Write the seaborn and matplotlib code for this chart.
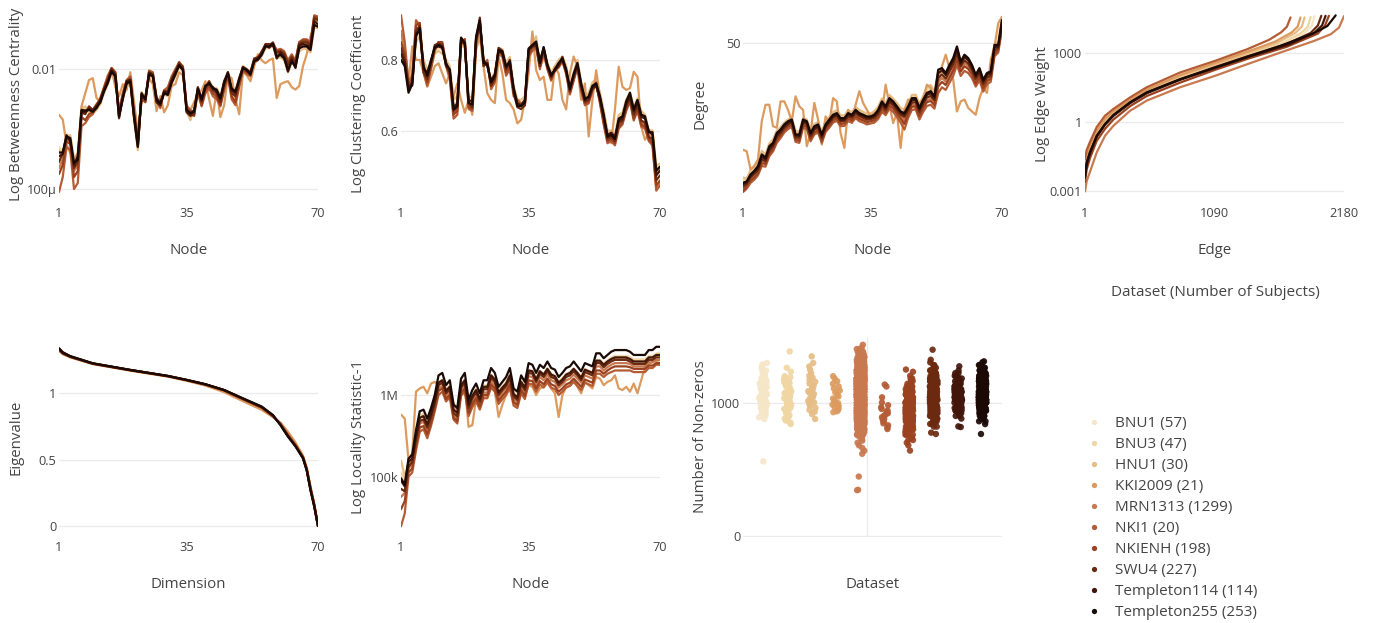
import numpy as np
import pandas as pd
import matplotlib
matplotlib.use("Agg")
import matplotlib.pyplot as plt
from matplotlib.lines import Line2D
from matplotlib.ticker import FixedLocator, NullLocator
import seaborn as sns

# ---------------------------------------------------------------- datasets
datasets = ["BNU1", "BNU3", "HNU1", "KKI2009", "MRN1313",
            "NKI1", "NKIENH", "SWU4", "Templeton114", "Templeton255"]
subjects = [57, 47, 30, 21, 1299, 20, 198, 227, 114, 253]
colors = ["#f5e6c8", "#efd6a3", "#e6bd85", "#dc9a5e", "#c8794f",
          "#b55c35", "#9a4220", "#6b2a10", "#42160a", "#1a0904"]
nodes = list(range(1, 71))

# ------------------------------------------- betweenness centrality (log10)
betw_bnu1 = [-3.40, -3.36, -3.08, -3.14, -3.55, -3.50, -2.70, -2.68, -2.70, -2.72,
             -2.64, -2.56, -2.36, -2.24, -2.05, -2.13, -2.76, -2.47, -2.24, -2.20,
             -2.78, -3.32, -2.40, -2.50, -2.10, -2.13, -2.52, -2.56, -2.40, -2.42,
             -2.24, -2.10, -1.94, -2.02, -2.70, -2.74, -2.70, -2.33, -2.52, -2.30,
             -2.24, -2.32, -2.35, -2.48, -2.24, -2.08, -2.32, -2.38, -2.18, -1.98,
             -2.02, -2.10, -1.88, -1.85, -1.77, -1.63, -1.63, -1.58, -1.80, -1.77,
             -1.83, -2.02, -1.88, -1.96, -1.66, -1.63, -1.63, -1.69, -1.27, -1.30]
betw_bnu3 = [-3.30, -3.38, -3.10, -3.12, -3.52, -3.48, -2.66, -2.66, -2.72, -2.70,
             -2.66, -2.55, -2.38, -2.22, -2.06, -2.14, -2.78, -2.46, -2.25, -2.22,
             -2.80, -3.30, -2.38, -2.52, -2.10, -2.14, -2.50, -2.56, -2.42, -2.44,
             -2.22, -2.10, -1.95, -2.02, -2.66, -2.75, -2.72, -2.34, -2.50, -2.28,
             -2.22, -2.33, -2.33, -2.46, -2.22, -2.08, -2.30, -2.36, -2.16, -1.97,
             -2.02, -2.08, -1.88, -1.84, -1.78, -1.64, -1.64, -1.58, -1.80, -1.78,
             -1.84, -2.02, -1.88, -1.94, -1.68, -1.64, -1.64, -1.70, -1.28, -1.30]
betw_hnu1 = [-3.35, -3.45, -3.15, -3.10, -3.50, -3.45, -2.65, -2.62, -2.70, -2.74,
             -2.68, -2.58, -2.40, -2.25, -2.08, -2.15, -2.80, -2.50, -2.28, -2.25,
             -2.82, -3.35, -2.38, -2.48, -2.12, -2.15, -2.48, -2.55, -2.42, -2.45,
             -2.25, -2.12, -1.96, -2.04, -2.70, -2.85, -2.68, -2.30, -2.48, -2.26,
             -2.20, -2.30, -2.32, -2.45, -2.20, -2.10, -2.30, -2.35, -2.15, -1.95,
             -2.00, -2.10, -1.88, -1.80, -1.78, -1.65, -1.65, -1.60, -1.82, -1.80,
             -1.85, -2.05, -1.90, -1.92, -1.70, -1.66, -1.66, -1.72, -1.30, -1.32]
betw_kki2009 = [-2.76, -2.84, -3.25, -3.40, -3.50, -3.40, -2.62, -2.40, -2.18, -2.15,
                -2.48, -2.55, -2.30, -2.10, -2.00, -2.30, -2.45, -2.25, -2.35, -2.05,
                -2.55, -3.05, -2.55, -2.45, -2.15, -2.25, -2.70, -2.45, -2.72, -2.60,
                -2.28, -2.25, -2.05, -2.10, -2.60, -2.68, -2.55, -2.40, -2.35, -2.20,
                -2.50, -2.78, -2.35, -2.80, -2.60, -2.10, -2.15, -2.50, -2.75, -2.05,
                -2.10, -2.20, -1.95, -1.75, -1.85, -1.90, -1.85, -1.82, -2.48, -2.25,
                -2.22, -2.20, -2.30, -2.34, -2.28, -1.95, -1.75, -1.45, -1.25, -1.30]
betw_mrn1313 = [-3.65, -3.50, -3.18, -3.20, -3.70, -3.60, -2.75, -2.70, -2.65, -2.68,
                -2.58, -2.52, -2.35, -2.20, -2.02, -2.08, -2.72, -2.45, -2.22, -2.20,
                -2.78, -3.22, -2.42, -2.50, -2.08, -2.10, -2.50, -2.58, -2.38, -2.38,
                -2.18, -2.05, -1.92, -1.98, -2.65, -2.72, -2.72, -2.32, -2.50, -2.30,
                -2.25, -2.32, -2.38, -2.52, -2.25, -2.08, -2.35, -2.42, -2.20, -2.00,
                -2.02, -2.08, -1.86, -1.83, -1.74, -1.62, -1.62, -1.58, -1.75, -1.72,
                -1.78, -1.95, -1.82, -1.92, -1.62, -1.58, -1.58, -1.64, -1.18, -1.20]
betw_nki1 = [-4.05, -3.80, -3.30, -3.35, -4.00, -3.90, -2.95, -2.90, -2.80, -2.75,
             -2.62, -2.48, -2.30, -2.12, -1.98, -2.05, -2.70, -2.40, -2.18, -2.12,
             -2.70, -3.15, -2.50, -2.55, -2.02, -2.05, -2.50, -2.65, -2.35, -2.30,
             -2.12, -2.00, -1.90, -1.95, -2.62, -2.68, -2.72, -2.40, -2.62, -2.40,
             -2.32, -2.45, -2.50, -2.62, -2.35, -2.12, -2.50, -2.60, -2.30, -2.02,
             -2.08, -2.12, -1.88, -1.85, -1.72, -1.62, -1.60, -1.58, -1.68, -1.66,
             -1.70, -1.85, -1.75, -1.85, -1.55, -1.50, -1.50, -1.55, -1.10, -1.12]
betw_nkienh = [-3.75, -3.60, -3.20, -3.25, -3.80, -3.70, -2.80, -2.85, -2.75, -2.72,
               -2.60, -2.50, -2.32, -2.15, -1.98, -2.05, -2.75, -2.42, -2.20, -2.15,
               -2.75, -3.20, -2.45, -2.55, -2.05, -2.10, -2.55, -2.62, -2.38, -2.35,
               -2.15, -2.02, -1.88, -1.96, -2.65, -2.70, -2.78, -2.35, -2.60, -2.35,
               -2.28, -2.40, -2.45, -2.60, -2.30, -2.10, -2.45, -2.55, -2.25, -2.00,
               -2.05, -2.10, -1.85, -1.82, -1.70, -1.60, -1.60, -1.55, -1.70, -1.68,
               -1.72, -1.90, -1.78, -1.88, -1.55, -1.52, -1.52, -1.58, -1.12, -1.15]
betw_swu4 = [-3.55, -3.40, -3.15, -3.18, -3.65, -3.55, -2.72, -2.75, -2.62, -2.68,
             -2.60, -2.50, -2.33, -2.18, -2.00, -2.08, -2.82, -2.45, -2.25, -2.18,
             -2.82, -3.30, -2.42, -2.50, -2.05, -2.08, -2.48, -2.55, -2.36, -2.38,
             -2.18, -2.05, -1.90, -1.98, -2.72, -2.78, -2.75, -2.30, -2.55, -2.32,
             -2.20, -2.35, -2.40, -2.55, -2.25, -2.05, -2.40, -2.45, -2.20, -1.96,
             -2.00, -2.05, -1.82, -1.80, -1.72, -1.58, -1.58, -1.60, -1.72, -1.70,
             -1.75, -1.92, -1.80, -1.90, -1.58, -1.55, -1.55, -1.60, -1.15, -1.18]
betw_templeton114 = [-3.45, -3.42, -3.10, -3.20, -3.60, -3.45, -2.70, -2.72, -2.66, -2.70,
                     -2.62, -2.56, -2.35, -2.20, -2.02, -2.10, -2.76, -2.50, -2.20, -2.18,
                     -2.75, -3.25, -2.44, -2.48, -2.06, -2.10, -2.55, -2.60, -2.38, -2.40,
                     -2.20, -2.05, -1.95, -2.00, -2.70, -2.76, -2.68, -2.35, -2.48, -2.27,
                     -2.25, -2.30, -2.38, -2.50, -2.20, -2.05, -2.35, -2.40, -2.15, -1.97,
                     -2.03, -2.06, -1.85, -1.82, -1.74, -1.60, -1.64, -1.58, -1.82, -1.72,
                     -1.80, -2.04, -1.84, -1.98, -1.60, -1.58, -1.60, -1.63, -1.20, -1.25]
betw_templeton255 = [-3.39, -3.39, -3.12, -3.15, -3.57, -3.51, -2.68, -2.69, -2.68, -2.71,
                     -2.65, -2.54, -2.37, -2.23, -2.04, -2.12, -2.79, -2.48, -2.23, -2.21,
                     -2.79, -3.29, -2.40, -2.51, -2.09, -2.12, -2.51, -2.57, -2.40, -2.43,
                     -2.23, -2.09, -1.93, -2.01, -2.68, -2.73, -2.71, -2.32, -2.51, -2.29,
                     -2.23, -2.32, -2.34, -2.48, -2.23, -2.07, -2.32, -2.37, -2.18, -1.98,
                     -2.01, -2.09, -1.87, -1.84, -1.76, -1.62, -1.62, -1.57, -1.79, -1.76,
                     -1.82, -2.01, -1.87, -1.96, -1.65, -1.62, -1.62, -1.68, -1.26, -1.29]

# ------------------------------------------------- clustering coefficient
clus_bnu1 = [0.81, 0.79, 0.71, 0.73, 0.875, 0.90, 0.785, 0.755, 0.80, 0.84,
             0.845, 0.84, 0.79, 0.77, 0.66, 0.67, 0.87, 0.85, 0.675, 0.67,
             0.875, 0.935, 0.795, 0.785, 0.73, 0.75, 0.83, 0.83, 0.78, 0.80,
             0.71, 0.665, 0.665, 0.675, 0.835, 0.85, 0.86, 0.79, 0.84, 0.785,
             0.75, 0.77, 0.79, 0.805, 0.77, 0.71, 0.755, 0.79, 0.725, 0.68,
             0.69, 0.72, 0.73, 0.69, 0.64, 0.585, 0.59, 0.58, 0.63, 0.635,
             0.675, 0.70, 0.655, 0.68, 0.64, 0.635, 0.595, 0.595, 0.51, 0.52]
clus_bnu3 = [0.83, 0.80, 0.72, 0.74, 0.87, 0.89, 0.79, 0.76, 0.79, 0.83,
             0.84, 0.835, 0.79, 0.775, 0.665, 0.675, 0.86, 0.845, 0.68, 0.675,
             0.87, 0.93, 0.80, 0.79, 0.735, 0.755, 0.835, 0.83, 0.785, 0.80,
             0.715, 0.67, 0.67, 0.68, 0.83, 0.85, 0.865, 0.795, 0.84, 0.79,
             0.755, 0.775, 0.795, 0.81, 0.775, 0.715, 0.76, 0.795, 0.73, 0.685,
             0.695, 0.725, 0.735, 0.695, 0.645, 0.59, 0.595, 0.585, 0.635, 0.64,
             0.68, 0.70, 0.66, 0.685, 0.645, 0.64, 0.60, 0.60, 0.515, 0.52]
clus_hnu1 = [0.87, 0.83, 0.74, 0.76, 0.86, 0.88, 0.80, 0.77, 0.78, 0.82,
             0.83, 0.82, 0.80, 0.78, 0.68, 0.69, 0.85, 0.84, 0.69, 0.685,
             0.86, 0.91, 0.80, 0.78, 0.74, 0.76, 0.84, 0.835, 0.79, 0.81,
             0.72, 0.68, 0.68, 0.69, 0.82, 0.86, 0.88, 0.78, 0.80, 0.79,
             0.76, 0.78, 0.80, 0.81, 0.78, 0.72, 0.76, 0.80, 0.73, 0.69,
             0.70, 0.73, 0.74, 0.70, 0.65, 0.60, 0.60, 0.59, 0.64, 0.645,
             0.68, 0.70, 0.66, 0.68, 0.65, 0.64, 0.60, 0.60, 0.52, 0.525]
clus_kki2009 = [0.90, 0.82, 0.73, 0.845, 0.80, 0.80, 0.76, 0.717, 0.747, 0.78,
                0.789, 0.757, 0.727, 0.757, 0.689, 0.727, 0.68, 0.645, 0.68, 0.64,
                0.833, 0.88, 0.778, 0.698, 0.68, 0.671, 0.811, 0.757, 0.68, 0.671,
                0.654, 0.618, 0.627, 0.68, 0.757, 0.898, 0.767, 0.737, 0.747, 0.68,
                0.68, 0.778, 0.757, 0.68, 0.654, 0.757, 0.811, 0.778, 0.68, 0.727,
                0.586, 0.68, 0.767, 0.689, 0.645, 0.593, 0.57, 0.654, 0.778, 0.717,
                0.708, 0.713, 0.762, 0.747, 0.61, 0.578, 0.593, 0.586, 0.503, 0.518]
clus_mrn1313 = [0.90, 0.84, 0.72, 0.74, 0.91, 0.90, 0.77, 0.74, 0.78, 0.84,
                0.855, 0.855, 0.785, 0.755, 0.645, 0.655, 0.865, 0.86, 0.665, 0.66,
                0.865, 0.935, 0.785, 0.79, 0.725, 0.745, 0.835, 0.825, 0.765, 0.785,
                0.705, 0.675, 0.67, 0.675, 0.825, 0.845, 0.85, 0.785, 0.835, 0.78,
                0.745, 0.77, 0.785, 0.80, 0.76, 0.705, 0.745, 0.78, 0.715, 0.675,
                0.68, 0.715, 0.725, 0.68, 0.625, 0.58, 0.585, 0.575, 0.615, 0.625,
                0.66, 0.685, 0.635, 0.66, 0.62, 0.615, 0.585, 0.575, 0.475, 0.485]
clus_nki1 = [0.96, 0.86, 0.73, 0.75, 0.94, 0.92, 0.76, 0.72, 0.77, 0.83,
             0.86, 0.85, 0.78, 0.74, 0.63, 0.64, 0.85, 0.87, 0.655, 0.65,
             0.85, 0.92, 0.78, 0.80, 0.71, 0.73, 0.82, 0.81, 0.75, 0.77,
             0.69, 0.68, 0.67, 0.665, 0.81, 0.83, 0.84, 0.77, 0.82, 0.77,
             0.735, 0.765, 0.775, 0.795, 0.755, 0.695, 0.735, 0.775, 0.705, 0.665,
             0.67, 0.705, 0.73, 0.67, 0.615, 0.57, 0.575, 0.565, 0.605, 0.615,
             0.65, 0.675, 0.625, 0.65, 0.61, 0.605, 0.575, 0.565, 0.47, 0.48]
clus_nkienh = [0.86, 0.82, 0.72, 0.74, 0.92, 0.93, 0.77, 0.73, 0.78, 0.84,
               0.86, 0.86, 0.79, 0.75, 0.64, 0.65, 0.86, 0.87, 0.66, 0.655,
               0.86, 0.93, 0.79, 0.79, 0.72, 0.74, 0.83, 0.82, 0.76, 0.78,
               0.70, 0.67, 0.665, 0.67, 0.82, 0.84, 0.845, 0.78, 0.83, 0.775,
               0.74, 0.77, 0.78, 0.80, 0.76, 0.70, 0.74, 0.78, 0.71, 0.67,
               0.675, 0.71, 0.725, 0.675, 0.62, 0.575, 0.58, 0.57, 0.61, 0.62,
               0.655, 0.68, 0.63, 0.655, 0.615, 0.61, 0.58, 0.57, 0.48, 0.49]
clus_swu4 = [0.84, 0.80, 0.72, 0.72, 0.90, 0.92, 0.76, 0.74, 0.79, 0.85,
             0.855, 0.85, 0.78, 0.76, 0.65, 0.66, 0.87, 0.86, 0.67, 0.66,
             0.87, 0.95, 0.78, 0.79, 0.72, 0.74, 0.84, 0.83, 0.77, 0.80,
             0.70, 0.66, 0.655, 0.665, 0.83, 0.845, 0.85, 0.78, 0.84, 0.78,
             0.745, 0.77, 0.78, 0.81, 0.765, 0.705, 0.75, 0.78, 0.72, 0.675,
             0.68, 0.71, 0.72, 0.68, 0.63, 0.58, 0.585, 0.575, 0.62, 0.625,
             0.665, 0.685, 0.64, 0.665, 0.625, 0.62, 0.585, 0.58, 0.49, 0.50]
clus_templeton114 = [0.82, 0.79, 0.71, 0.73, 0.89, 0.90, 0.77, 0.76, 0.80, 0.84,
                     0.845, 0.84, 0.79, 0.765, 0.66, 0.67, 0.87, 0.85, 0.68, 0.675,
                     0.87, 0.93, 0.80, 0.78, 0.735, 0.755, 0.83, 0.82, 0.775, 0.79,
                     0.715, 0.67, 0.665, 0.68, 0.835, 0.845, 0.855, 0.80, 0.835, 0.78,
                     0.755, 0.765, 0.785, 0.80, 0.765, 0.715, 0.75, 0.785, 0.72, 0.685,
                     0.685, 0.715, 0.72, 0.685, 0.635, 0.59, 0.595, 0.585, 0.625, 0.63,
                     0.67, 0.69, 0.65, 0.675, 0.635, 0.63, 0.60, 0.59, 0.50, 0.51]
clus_templeton255 = [0.80, 0.78, 0.70, 0.725, 0.88, 0.91, 0.78, 0.75, 0.795, 0.843,
                     0.85, 0.843, 0.785, 0.77, 0.654, 0.663, 0.876, 0.856, 0.672, 0.667,
                     0.88, 0.94, 0.79, 0.785, 0.73, 0.75, 0.833, 0.828, 0.78, 0.795,
                     0.71, 0.663, 0.663, 0.672, 0.838, 0.85, 0.862, 0.79, 0.843, 0.785,
                     0.75, 0.77, 0.79, 0.805, 0.77, 0.71, 0.756, 0.79, 0.727, 0.68,
                     0.69, 0.72, 0.727, 0.69, 0.64, 0.585, 0.59, 0.58, 0.63, 0.636,
                     0.676, 0.70, 0.654, 0.68, 0.64, 0.636, 0.596, 0.596, 0.51, 0.518]

# ---------------------------------------------------------------- degree
deg_bnu1 = [13.5, 13.7, 14.6, 15.1, 15.8, 17.6, 17.0, 18.9, 19.6, 21.4,
            22.1, 23.2, 23.9, 24.3, 21.2, 21.2, 24.3, 23.9, 21.5, 22.8,
            23.2, 21.2, 23.3, 24.3, 25.5, 25.9, 24.7, 24.6, 25.9, 25.5,
            26.7, 25.9, 25.5, 25.1, 25.1, 25.5, 26.7, 28.9, 27.6, 29.8,
            28.9, 27.6, 26.3, 25.9, 27.6, 29.8, 29.9, 27.2, 29.4, 31.6,
            32.0, 30.4, 38.2, 39.0, 37.3, 40.3, 43.0, 47.8, 41.6, 44.2,
            42.8, 40.1, 36.6, 39.0, 35.0, 37.3, 37.9, 48.8, 49.5, 63.0]
deg_bnu3 = [13.6, 13.9, 14.7, 15.2, 15.9, 17.7, 17.1, 19.0, 19.7, 21.5,
            22.2, 23.3, 24.0, 24.4, 21.4, 21.3, 24.4, 24.0, 21.6, 23.0,
            23.4, 21.3, 23.5, 24.5, 25.7, 26.1, 24.9, 24.8, 26.1, 25.7,
            26.9, 26.1, 25.7, 25.3, 25.3, 25.8, 27.0, 29.1, 27.8, 30.1,
            29.1, 27.9, 26.6, 26.1, 27.9, 30.1, 30.2, 27.6, 29.8, 32.2,
            32.6, 30.8, 38.0, 39.0, 37.2, 40.2, 42.8, 47.5, 41.6, 44.3,
            42.9, 40.2, 36.8, 39.2, 35.3, 37.6, 38.2, 49.0, 49.8, 62.8]
deg_hnu1 = [14.0, 13.8, 15.0, 15.5, 16.2, 18.0, 17.4, 19.3, 20.0, 21.8,
            22.5, 23.5, 24.2, 24.5, 21.8, 21.5, 24.5, 24.2, 21.8, 23.2,
            23.6, 21.6, 23.8, 24.8, 26.0, 26.4, 25.2, 25.1, 26.4, 26.0,
            27.2, 26.5, 26.0, 25.6, 25.6, 26.2, 27.3, 29.5, 28.2, 30.5,
            29.5, 28.3, 27.0, 26.5, 28.3, 30.5, 30.6, 28.0, 30.2, 33.0,
            33.5, 31.5, 37.5, 38.8, 37.0, 40.0, 42.5, 47.0, 41.5, 44.0,
            42.6, 40.0, 36.5, 39.0, 35.0, 37.4, 38.0, 49.5, 50.5, 63.5]
deg_kki2009 = [18.2, 17.9, 15.1, 15.6, 16.6, 23.8, 27.8, 27.8, 22.7, 22.4,
               28.7, 28.7, 26.5, 23.8, 30.1, 27.4, 26.5, 18.8, 21.3, 28.3,
               24.2, 19.1, 24.9, 23.4, 29.6, 28.7, 21.3, 18.5, 26.5, 23.4,
               27.8, 31.6, 28.3, 26.5, 24.9, 25.7, 25.7, 25.7, 33.6, 27.8,
               23.4, 25.7, 18.5, 26.5, 29.2, 28.7, 26.5, 28.3, 29.2, 33.6,
               32.6, 27.8, 33.6, 39.9, 44.6, 39.3, 35.2, 26.1, 28.7, 29.2,
               27.0, 26.1, 25.3, 29.6, 32.6, 31.1, 42.5, 48.2, 60.0, 63.8]
deg_mrn1313 = [12.5, 12.8, 13.8, 14.2, 14.8, 16.3, 16.0, 17.8, 18.5, 20.2,
               21.0, 22.1, 22.8, 23.3, 20.2, 20.1, 23.1, 22.8, 20.3, 21.7,
               22.1, 20.0, 22.2, 23.2, 24.3, 24.7, 23.5, 23.6, 24.6, 24.3,
               25.3, 24.6, 24.3, 23.9, 24.0, 24.3, 25.2, 27.2, 26.1, 28.0,
               27.2, 26.0, 24.9, 24.0, 25.9, 27.8, 27.9, 25.5, 27.4, 29.0,
               29.5, 28.3, 34.5, 35.8, 34.6, 37.0, 39.6, 43.8, 39.0, 41.2,
               40.0, 37.8, 34.8, 36.8, 33.2, 35.4, 36.0, 45.8, 47.0, 58.8]
deg_nki1 = [12.2, 12.6, 13.3, 13.7, 14.3, 15.6, 15.5, 17.1, 17.9, 19.4,
            20.3, 21.4, 22.1, 22.6, 19.6, 19.4, 22.4, 22.1, 19.7, 21.0,
            21.4, 19.4, 21.5, 22.4, 23.5, 23.9, 22.7, 22.8, 23.8, 23.5,
            24.5, 23.8, 23.5, 23.1, 23.3, 23.5, 24.3, 26.0, 25.2, 26.8,
            26.0, 24.8, 23.5, 22.0, 24.6, 26.5, 26.6, 24.2, 26.0, 27.5,
            27.8, 26.8, 31.0, 32.8, 32.0, 34.2, 36.5, 40.5, 36.5, 38.3,
            37.5, 35.8, 33.0, 35.0, 31.5, 33.8, 34.5, 44.0, 45.5, 57.0]
deg_nkienh = [12.3, 12.9, 13.6, 14.0, 14.6, 16.0, 15.9, 17.5, 18.3, 19.9,
              20.8, 21.9, 22.6, 23.0, 20.0, 19.8, 22.9, 22.6, 20.1, 21.4,
              21.8, 19.8, 21.9, 22.9, 24.0, 24.4, 23.2, 23.3, 24.3, 24.0,
              25.0, 24.3, 24.0, 23.6, 23.8, 24.0, 24.9, 26.8, 25.8, 27.6,
              26.8, 25.6, 24.4, 23.2, 25.5, 27.3, 27.4, 25.0, 26.9, 28.5,
              28.8, 27.7, 33.0, 34.5, 33.5, 35.8, 38.4, 42.5, 38.0, 40.0,
              39.0, 37.0, 34.0, 36.2, 32.5, 34.8, 35.5, 45.0, 46.5, 58.0]
deg_swu4 = [12.8, 13.2, 14.0, 14.5, 15.0, 16.6, 16.3, 18.0, 18.8, 20.5,
            21.3, 22.4, 23.1, 23.6, 20.4, 20.4, 23.4, 23.2, 20.6, 22.0,
            22.4, 20.3, 22.5, 23.5, 24.6, 25.0, 23.8, 23.9, 24.9, 24.6,
            25.7, 25.0, 24.6, 24.2, 24.3, 24.6, 25.6, 27.6, 26.5, 28.5,
            27.7, 26.4, 25.3, 24.8, 26.4, 28.4, 28.5, 26.0, 28.0, 29.8,
            30.2, 29.0, 35.8, 37.0, 35.6, 38.2, 40.8, 45.0, 40.0, 42.3,
            41.0, 38.6, 35.5, 37.5, 33.8, 36.0, 36.5, 46.5, 47.5, 59.5]
deg_templeton114 = [13.1, 13.4, 14.2, 14.7, 15.3, 17.0, 16.6, 18.4, 19.1, 20.9,
                    21.7, 22.7, 23.4, 23.9, 20.8, 20.7, 23.8, 23.5, 21.0, 22.3,
                    22.7, 20.7, 22.8, 23.8, 24.9, 25.3, 24.1, 24.2, 25.3, 25.0,
                    26.1, 25.3, 25.0, 24.6, 24.6, 25.0, 26.1, 28.2, 27.0, 29.1,
                    28.3, 27.0, 25.8, 25.3, 27.0, 29.1, 29.1, 26.6, 28.7, 30.5,
                    31.0, 29.6, 37.5, 38.4, 36.8, 39.6, 42.2, 46.8, 41.0, 43.6,
                    42.3, 39.7, 36.3, 38.5, 34.6, 36.8, 37.4, 47.8, 48.1, 60.8]
deg_templeton255 = [13.3, 13.5, 14.4, 14.9, 15.6, 17.4, 16.9, 18.8, 19.4, 21.3,
                    22.0, 23.1, 23.8, 24.2, 21.0, 21.0, 24.2, 23.8, 21.3, 22.7,
                    23.1, 21.0, 23.1, 24.2, 25.3, 25.7, 24.5, 24.5, 25.7, 25.3,
                    26.5, 25.7, 25.3, 24.9, 24.9, 25.3, 26.5, 28.7, 27.4, 29.6,
                    28.7, 27.4, 26.1, 25.7, 27.4, 29.6, 29.6, 27.0, 29.2, 31.1,
                    31.6, 30.1, 38.7, 39.3, 37.5, 40.5, 43.2, 48.2, 41.8, 44.6,
                    43.2, 40.5, 36.9, 39.3, 35.2, 37.5, 38.1, 48.9, 48.9, 61.9]

# ------------------------------------------- locality statistic-1 (log10)
loc_bnu1 = [5.00, 4.92, 5.16, 5.21, 5.50, 5.73, 5.76, 5.66, 5.79, 5.95,
            6.15, 6.19, 6.07, 6.12, 5.85, 5.81, 6.14, 6.19, 5.88, 6.01,
            6.08, 5.98, 6.12, 6.12, 6.25, 6.20, 6.06, 6.11, 6.16, 6.25,
            6.02, 5.98, 6.18, 6.11, 6.31, 6.30, 6.21, 6.30, 6.26, 6.33,
            6.26, 6.24, 6.17, 6.21, 6.26, 6.28, 6.33, 6.28, 6.23, 6.32,
            6.30, 6.28, 6.43, 6.43, 6.39, 6.43, 6.46, 6.48, 6.48, 6.48,
            6.48, 6.47, 6.44, 6.44, 6.44, 6.44, 6.48, 6.48, 6.51, 6.52]
loc_bnu3 = [5.05, 4.95, 5.18, 5.23, 5.52, 5.74, 5.77, 5.67, 5.79, 5.94,
            6.14, 6.18, 6.06, 6.11, 5.86, 5.81, 6.13, 6.18, 5.89, 6.00,
            6.07, 5.97, 6.11, 6.11, 6.24, 6.19, 6.05, 6.10, 6.15, 6.24,
            6.03, 5.99, 6.17, 6.10, 6.30, 6.29, 6.20, 6.29, 6.25, 6.32,
            6.25, 6.23, 6.16, 6.20, 6.25, 6.27, 6.32, 6.27, 6.22, 6.31,
            6.29, 6.27, 6.42, 6.42, 6.38, 6.42, 6.45, 6.47, 6.47, 6.47,
            6.47, 6.46, 6.43, 6.43, 6.43, 6.43, 6.47, 6.47, 6.50, 6.51]
loc_hnu1 = [5.20, 5.00, 5.15, 5.20, 5.50, 5.72, 5.75, 5.65, 5.78, 5.92,
            6.12, 6.16, 6.04, 6.10, 5.85, 5.80, 6.12, 6.16, 5.87, 5.98,
            6.06, 5.96, 6.10, 6.10, 6.22, 6.18, 6.04, 6.09, 6.13, 6.22,
            6.02, 5.98, 6.16, 6.09, 6.28, 6.27, 6.19, 6.27, 6.24, 6.30,
            6.24, 6.22, 6.15, 6.19, 6.24, 6.26, 6.30, 6.26, 6.21, 6.29,
            6.28, 6.26, 6.40, 6.40, 6.36, 6.40, 6.43, 6.45, 6.45, 6.45,
            6.45, 6.44, 6.41, 6.41, 6.41, 6.41, 6.45, 6.45, 6.48, 6.49]
loc_kki2009 = [5.76, 5.71, 5.20, 5.29, 6.04, 6.08, 6.10, 6.02, 6.14, 6.16,
               6.12, 6.15, 6.06, 6.10, 5.90, 5.82, 6.05, 6.12, 5.61, 5.63,
               5.95, 5.90, 6.00, 5.98, 6.10, 6.05, 5.73, 5.88, 6.00, 6.08,
               5.90, 5.85, 6.05, 5.98, 6.12, 6.10, 6.00, 6.08, 6.10, 6.15,
               6.08, 6.02, 5.73, 6.00, 6.10, 6.12, 6.18, 6.10, 6.02, 6.16,
               6.12, 6.08, 6.22, 6.20, 6.12, 6.16, 6.18, 6.24, 6.08, 6.06,
               6.10, 6.04, 6.14, 6.02, 6.18, 6.35, 6.37, 6.41, 6.41, 6.43]
loc_mrn1313 = [4.75, 4.80, 5.10, 5.15, 5.42, 5.65, 5.67, 5.57, 5.70, 5.87,
               6.08, 6.11, 5.98, 6.04, 5.76, 5.71, 6.05, 6.11, 5.81, 5.92,
               5.99, 5.89, 6.03, 6.03, 6.17, 6.12, 5.97, 6.03, 6.08, 6.17,
               5.95, 5.91, 6.10, 6.03, 6.23, 6.22, 6.12, 6.22, 6.18, 6.25,
               6.18, 6.16, 6.09, 6.13, 6.18, 6.20, 6.25, 6.20, 6.15, 6.24,
               6.22, 6.20, 6.35, 6.35, 6.30, 6.34, 6.37, 6.39, 6.39, 6.39,
               6.39, 6.38, 6.35, 6.35, 6.35, 6.35, 6.40, 6.40, 6.43, 6.43]
loc_nki1 = [4.39, 4.55, 5.00, 5.05, 5.32, 5.55, 5.58, 5.47, 5.62, 5.80,
            6.00, 6.04, 5.92, 5.97, 5.70, 5.65, 5.99, 6.04, 5.74, 5.85,
            5.92, 5.82, 5.96, 5.96, 6.09, 6.04, 5.89, 5.95, 6.00, 6.09,
            5.87, 5.84, 6.02, 5.95, 6.14, 6.13, 6.04, 6.13, 6.09, 6.16,
            6.09, 6.07, 6.00, 6.04, 6.09, 6.11, 6.16, 6.11, 6.06, 6.15,
            6.13, 6.11, 6.26, 6.26, 6.22, 6.26, 6.28, 6.30, 6.30, 6.30,
            6.30, 6.30, 6.28, 6.28, 6.28, 6.28, 6.33, 6.33, 6.37, 6.37]
loc_nkienh = [4.60, 4.70, 5.05, 5.10, 5.38, 5.60, 5.62, 5.52, 5.66, 5.84,
              6.05, 6.08, 5.95, 6.00, 5.72, 5.68, 6.02, 6.08, 5.78, 5.89,
              5.96, 5.86, 6.00, 6.00, 6.13, 6.08, 5.93, 5.99, 6.04, 6.13,
              5.91, 5.88, 6.06, 5.99, 6.18, 6.17, 6.08, 6.17, 6.13, 6.20,
              6.13, 6.11, 6.04, 6.08, 6.13, 6.15, 6.20, 6.15, 6.10, 6.19,
              6.17, 6.15, 6.30, 6.30, 6.26, 6.30, 6.33, 6.35, 6.35, 6.35,
              6.35, 6.34, 6.32, 6.32, 6.32, 6.32, 6.36, 6.36, 6.39, 6.39]
loc_swu4 = [4.85, 4.82, 5.12, 5.18, 5.45, 5.68, 5.70, 5.60, 5.73, 5.90,
            6.12, 6.15, 6.02, 6.07, 5.78, 5.74, 6.09, 6.15, 5.84, 5.96,
            6.03, 5.92, 6.07, 6.07, 6.21, 6.16, 6.00, 6.06, 6.11, 6.21,
            5.98, 5.94, 6.13, 6.06, 6.27, 6.26, 6.16, 6.26, 6.22, 6.29,
            6.22, 6.20, 6.12, 6.16, 6.22, 6.24, 6.29, 6.24, 6.18, 6.28,
            6.26, 6.24, 6.39, 6.39, 6.34, 6.38, 6.41, 6.43, 6.43, 6.43,
            6.43, 6.41, 6.38, 6.38, 6.38, 6.38, 6.43, 6.43, 6.46, 6.46]
loc_templeton114 = [4.95, 4.88, 5.18, 5.22, 5.50, 5.72, 5.74, 5.64, 5.77, 5.93,
                    6.15, 6.18, 6.05, 6.10, 5.82, 5.78, 6.12, 6.18, 5.88, 5.99,
                    6.06, 5.95, 6.10, 6.10, 6.24, 6.19, 6.03, 6.09, 6.14, 6.24,
                    6.01, 5.97, 6.16, 6.09, 6.30, 6.29, 6.19, 6.29, 6.25, 6.32,
                    6.25, 6.23, 6.15, 6.19, 6.25, 6.27, 6.32, 6.27, 6.21, 6.31,
                    6.29, 6.27, 6.42, 6.42, 6.37, 6.41, 6.44, 6.46, 6.46, 6.46,
                    6.46, 6.44, 6.41, 6.41, 6.41, 6.41, 6.46, 6.46, 6.49, 6.49]
loc_templeton255 = [4.98, 4.90, 5.22, 5.27, 5.57, 5.80, 5.82, 5.71, 5.84, 6.00,
                    6.24, 6.27, 6.12, 6.18, 5.88, 5.84, 6.20, 6.27, 5.94, 6.06,
                    6.14, 6.02, 6.18, 6.18, 6.33, 6.27, 6.10, 6.16, 6.22, 6.33,
                    6.08, 6.04, 6.24, 6.16, 6.39, 6.37, 6.27, 6.37, 6.33, 6.41,
                    6.33, 6.31, 6.22, 6.27, 6.33, 6.35, 6.41, 6.35, 6.29, 6.39,
                    6.37, 6.35, 6.51, 6.51, 6.45, 6.49, 6.53, 6.55, 6.55, 6.55,
                    6.55, 6.53, 6.49, 6.49, 6.49, 6.49, 6.55, 6.55, 6.59, 6.59]

# ------------------------------------------------------------- eigenvalues
eig_dims = [1, 2, 4, 10, 20, 30, 35, 40, 45, 50, 55, 58, 60, 62, 64, 66, 67, 68, 69, 70]
eig_bnu1 = [1.332, 1.304, 1.277, 1.225, 1.175, 1.130, 1.100, 1.067, 1.023, 0.958,
            0.895, 0.831, 0.766, 0.682, 0.607, 0.516, 0.425, 0.280, 0.152, 0.0]
eig_bnu3 = [1.330, 1.302, 1.276, 1.224, 1.175, 1.129, 1.099, 1.066, 1.022, 0.957,
            0.894, 0.830, 0.768, 0.685, 0.610, 0.518, 0.428, 0.282, 0.155, 0.0]
eig_hnu1 = [1.325, 1.298, 1.273, 1.222, 1.173, 1.128, 1.097, 1.063, 1.017, 0.952,
            0.888, 0.826, 0.772, 0.695, 0.618, 0.525, 0.435, 0.290, 0.160, 0.0]
eig_kki2009 = [1.320, 1.295, 1.270, 1.220, 1.170, 1.125, 1.094, 1.058, 1.008, 0.940,
               0.875, 0.820, 0.780, 0.710, 0.630, 0.530, 0.440, 0.300, 0.170, 0.0]
eig_mrn1313 = [1.335, 1.306, 1.278, 1.225, 1.176, 1.130, 1.100, 1.067, 1.023, 0.959,
               0.896, 0.832, 0.764, 0.678, 0.604, 0.514, 0.422, 0.276, 0.152, 0.0]
eig_nki1 = [1.325, 1.300, 1.274, 1.222, 1.173, 1.128, 1.098, 1.064, 1.020, 0.954,
            0.890, 0.825, 0.770, 0.690, 0.612, 0.520, 0.430, 0.290, 0.160, 0.0]
eig_nkienh = [1.330, 1.302, 1.276, 1.224, 1.175, 1.130, 1.100, 1.066, 1.022, 0.957,
              0.893, 0.828, 0.768, 0.684, 0.608, 0.518, 0.430, 0.285, 0.160, 0.0]
eig_swu4 = [1.330, 1.300, 1.275, 1.223, 1.174, 1.129, 1.100, 1.067, 1.023, 0.958,
            0.895, 0.830, 0.765, 0.680, 0.605, 0.515, 0.425, 0.280, 0.155, 0.0]
eig_templeton114 = [1.335, 1.305, 1.278, 1.225, 1.175, 1.131, 1.101, 1.068, 1.024, 0.960,
                    0.897, 0.833, 0.762, 0.676, 0.602, 0.512, 0.418, 0.272, 0.150, 0.0]
eig_templeton255 = [1.340, 1.310, 1.280, 1.226, 1.176, 1.130, 1.100, 1.068, 1.025, 0.962,
                    0.900, 0.836, 0.760, 0.673, 0.600, 0.510, 0.420, 0.270, 0.145, 0.0]

# ---------------------------------------- sorted edge weights (log10), per rank
edge_pos_bnu1 = [1, 15, 43, 100, 170, 240, 380, 520, 800, 1097, 1365, 1680, 1850, 1908, 1932]
edge_w_bnu1 = [-2.15, -1.65, -1.18, -0.48, 0.03, 0.39, 0.92, 1.35, 1.94, 2.47, 2.92, 3.42, 3.88, 4.17, 4.60]
edge_pos_bnu3 = [1, 15, 43, 100, 170, 240, 380, 520, 800, 1097, 1365, 1650, 1820, 1875, 1899]
edge_w_bnu3 = [-2.10, -1.60, -1.15, -0.45, 0.05, 0.40, 0.93, 1.36, 1.96, 2.48, 2.94, 3.40, 3.88, 4.15, 4.57]
edge_pos_hnu1 = [1, 15, 43, 100, 170, 240, 380, 520, 800, 1097, 1365, 1620, 1770, 1825, 1848]
edge_w_hnu1 = [-2.00, -1.55, -1.10, -0.42, 0.08, 0.43, 0.95, 1.38, 2.00, 2.52, 2.99, 3.45, 3.88, 4.15, 4.55]
edge_pos_kki2009 = [1, 15, 43, 100, 170, 240, 380, 520, 800, 1097, 1365, 1600, 1740, 1790, 1814]
edge_w_kki2009 = [-1.90, -1.45, -1.00, -0.35, 0.15, 0.48, 0.98, 1.42, 2.05, 2.58, 3.06, 3.50, 3.90, 4.15, 4.55]
edge_pos_mrn1313 = [1, 15, 43, 100, 170, 240, 380, 520, 800, 1097, 1365, 1646, 1927, 2068, 2138, 2180]
edge_w_mrn1313 = [-3.00, -2.55, -2.15, -1.30, -0.58, -0.15, 0.50, 0.94, 1.52, 2.02, 2.52, 3.03, 3.53, 3.82, 4.11, 4.61]
edge_pos_nki1 = [1, 15, 43, 100, 170, 240, 380, 520, 800, 1097, 1365, 1550, 1650, 1700, 1730]
edge_w_nki1 = [-1.60, -1.20, -0.85, -0.20, 0.29, 0.58, 1.08, 1.52, 2.16, 2.67, 3.17, 3.58, 3.90, 4.15, 4.55]
edge_pos_nkienh = [1, 15, 43, 100, 170, 240, 380, 520, 800, 1097, 1365, 1700, 1960, 2020, 2053]
edge_w_nkienh = [-2.60, -2.05, -1.55, -0.80, -0.28, 0.12, 0.70, 1.14, 1.72, 2.28, 2.75, 3.28, 3.85, 4.20, 4.62]
edge_pos_swu4 = [1, 15, 43, 100, 170, 240, 380, 520, 800, 1097, 1365, 1700, 1900, 1960, 1989]
edge_w_swu4 = [-2.35, -1.80, -1.30, -0.60, -0.08, 0.30, 0.85, 1.28, 1.86, 2.40, 2.86, 3.40, 3.88, 4.20, 4.62]
edge_pos_templeton114 = [1, 15, 43, 100, 170, 240, 380, 520, 800, 1097, 1365, 1720, 1930, 1995, 2025]
edge_w_templeton114 = [-2.40, -1.85, -1.35, -0.62, -0.10, 0.28, 0.83, 1.26, 1.84, 2.36, 2.82, 3.38, 3.88, 4.20, 4.62]
edge_pos_templeton255 = [1, 15, 43, 100, 170, 240, 380, 520, 800, 1097, 1365, 1646, 1927, 2040, 2110]
edge_w_templeton255 = [-2.30, -1.75, -1.30, -0.58, -0.07, 0.32, 0.87, 1.30, 1.87, 2.38, 2.84, 3.32, 3.87, 4.18, 4.64]

# ------------------------------------ number of non-zero edges per subject
nnz_bnu1 = [560, 877, 890, 905, 915, 925, 935, 942, 950, 958, 965, 972, 980, 985, 990,
            996, 1000, 1005, 1010, 1015, 1020, 1025, 1030, 1035, 1040, 1045, 1050, 1055,
            1060, 1065, 1070, 1075, 1080, 1085, 1090, 1095, 1100, 1105, 1110, 1115, 1120,
            1128, 1135, 1142, 1150, 1158, 1165, 1175, 1185, 1195, 1210, 1225, 1240, 1255,
            1270, 1285, 1296]
nnz_bnu3 = [839, 850, 865, 880, 892, 905, 915, 925, 935, 945, 952, 960, 968, 975, 982,
            990, 997, 1004, 1010, 1018, 1025, 1032, 1040, 1047, 1055, 1062, 1070, 1078,
            1085, 1092, 1100, 1108, 1115, 1122, 1130, 1138, 1145, 1152, 1160, 1168, 1175,
            1182, 1190, 1197, 1230, 1260, 1382]
nnz_hnu1 = [877, 913, 930, 945, 960, 975, 990, 1000, 1012, 1025, 1035, 1045, 1055, 1065,
            1075, 1085, 1095, 1105, 1118, 1130, 1142, 1155, 1170, 1185, 1200, 1220, 1245,
            1270, 1296, 1345]
nnz_kki2009 = [928, 935, 945, 955, 965, 975, 985, 995, 1005, 1015, 1030, 1045, 1060, 1075,
               1090, 1105, 1120, 1140, 1160, 1180, 1197]
nnz_nki1 = [802, 815, 830, 845, 860, 870, 880, 890, 900, 910, 920, 930, 940, 952, 965,
            980, 1000, 1039, 1120, 1135]
# larger cohorts: counts of subjects at each level, plus isolated subjects
nnz_mrn1313_levels = [760, 780, 800, 820, 840, 860, 880, 900, 920, 940, 960, 980, 1000,
                      1020, 1040, 1060, 1080, 1100, 1120, 1140, 1160, 1180, 1200, 1220,
                      1240, 1260, 1280, 1300, 1320, 1340, 1360, 1380, 1400]
nnz_mrn1313_counts = [8, 11, 12, 16, 20, 25, 31, 37, 44, 51, 58, 64, 72, 76, 78, 79, 78,
                      76, 72, 64, 58, 51, 44, 37, 31, 25, 20, 15, 12, 9, 6, 4, 2]
nnz_mrn1313_extra = [345, 348, 447, 617, 640, 660, 680, 700, 715, 730, 745, 1410, 1432]
nnz_nkienh_levels = [700, 720, 740, 760, 780, 800, 820, 840, 860, 880, 900, 920, 940,
                     960, 980, 1000, 1020, 1040, 1060, 1080, 1100, 1120, 1140, 1160, 1180, 1200]
nnz_nkienh_counts = [1, 2, 2, 3, 4, 6, 7, 9, 10, 12, 13, 14, 14, 14, 14, 13, 12, 10, 9,
                     7, 6, 4, 3, 2, 2, 1]
nnz_nkienh_extra = [641, 680, 1230, 1247]
nnz_swu4_levels = [820, 840, 860, 880, 900, 920, 940, 960, 980, 1000, 1020, 1040, 1060,
                   1080, 1100, 1120, 1140, 1160, 1180, 1200, 1220, 1240, 1260, 1280]
nnz_swu4_counts = [2, 3, 4, 5, 7, 8, 10, 12, 14, 15, 16, 15, 15, 16, 15, 14, 12, 10, 8,
                   7, 5, 4, 3, 2]
nnz_swu4_extra = [765, 775, 1300, 1320, 1395]
nnz_templeton114_levels = [880, 900, 920, 940, 960, 980, 1000, 1020, 1040, 1060, 1080,
                           1100, 1120, 1140, 1160, 1180, 1200, 1220, 1240]
nnz_templeton114_counts = [1, 2, 3, 4, 5, 7, 8, 10, 10, 11, 10, 10, 8, 7, 5, 4, 3, 2, 1]
nnz_templeton114_extra = [817, 822, 1271]
nnz_templeton255_levels = [860, 880, 900, 920, 940, 960, 980, 1000, 1020, 1040, 1060,
                           1080, 1100, 1120, 1140, 1160, 1180, 1200, 1220, 1240, 1260,
                           1280, 1300]
nnz_templeton255_counts = [2, 3, 4, 6, 8, 10, 13, 15, 18, 20, 21, 21, 20, 19, 17, 14, 12,
                           9, 7, 5, 3, 2, 1]
nnz_templeton255_extra = [765, 839, 1308]

# ------------------------------------------------------------ lookup tables
betweenness_log10 = {"BNU1": betw_bnu1, "BNU3": betw_bnu3, "HNU1": betw_hnu1,
                     "KKI2009": betw_kki2009, "MRN1313": betw_mrn1313, "NKI1": betw_nki1,
                     "NKIENH": betw_nkienh, "SWU4": betw_swu4,
                     "Templeton114": betw_templeton114, "Templeton255": betw_templeton255}
clustering = {"BNU1": clus_bnu1, "BNU3": clus_bnu3, "HNU1": clus_hnu1,
              "KKI2009": clus_kki2009, "MRN1313": clus_mrn1313, "NKI1": clus_nki1,
              "NKIENH": clus_nkienh, "SWU4": clus_swu4,
              "Templeton114": clus_templeton114, "Templeton255": clus_templeton255}
degree = {"BNU1": deg_bnu1, "BNU3": deg_bnu3, "HNU1": deg_hnu1,
          "KKI2009": deg_kki2009, "MRN1313": deg_mrn1313, "NKI1": deg_nki1,
          "NKIENH": deg_nkienh, "SWU4": deg_swu4,
          "Templeton114": deg_templeton114, "Templeton255": deg_templeton255}
locality_log10 = {"BNU1": loc_bnu1, "BNU3": loc_bnu3, "HNU1": loc_hnu1,
                  "KKI2009": loc_kki2009, "MRN1313": loc_mrn1313, "NKI1": loc_nki1,
                  "NKIENH": loc_nkienh, "SWU4": loc_swu4,
                  "Templeton114": loc_templeton114, "Templeton255": loc_templeton255}
eigenvalues = {"BNU1": eig_bnu1, "BNU3": eig_bnu3, "HNU1": eig_hnu1,
               "KKI2009": eig_kki2009, "MRN1313": eig_mrn1313, "NKI1": eig_nki1,
               "NKIENH": eig_nkienh, "SWU4": eig_swu4,
               "Templeton114": eig_templeton114, "Templeton255": eig_templeton255}
edge_positions = {"BNU1": edge_pos_bnu1, "BNU3": edge_pos_bnu3, "HNU1": edge_pos_hnu1,
                  "KKI2009": edge_pos_kki2009, "MRN1313": edge_pos_mrn1313,
                  "NKI1": edge_pos_nki1, "NKIENH": edge_pos_nkienh, "SWU4": edge_pos_swu4,
                  "Templeton114": edge_pos_templeton114,
                  "Templeton255": edge_pos_templeton255}
edge_weights_log10 = {"BNU1": edge_w_bnu1, "BNU3": edge_w_bnu3, "HNU1": edge_w_hnu1,
                      "KKI2009": edge_w_kki2009, "MRN1313": edge_w_mrn1313,
                      "NKI1": edge_w_nki1, "NKIENH": edge_w_nkienh, "SWU4": edge_w_swu4,
                      "Templeton114": edge_w_templeton114,
                      "Templeton255": edge_w_templeton255}
non_zeros = {
    "BNU1": nnz_bnu1, "BNU3": nnz_bnu3, "HNU1": nnz_hnu1, "KKI2009": nnz_kki2009,
    "MRN1313": list(np.repeat(nnz_mrn1313_levels, nnz_mrn1313_counts)) + nnz_mrn1313_extra,
    "NKI1": nnz_nki1,
    "NKIENH": list(np.repeat(nnz_nkienh_levels, nnz_nkienh_counts)) + nnz_nkienh_extra,
    "SWU4": list(np.repeat(nnz_swu4_levels, nnz_swu4_counts)) + nnz_swu4_extra,
    "Templeton114": list(np.repeat(nnz_templeton114_levels, nnz_templeton114_counts))
    + nnz_templeton114_extra,
    "Templeton255": list(np.repeat(nnz_templeton255_levels, nnz_templeton255_counts))
    + nnz_templeton255_extra,
}


def long_frame(xs_by_set, ys_by_set, log10=False):
    parts = []
    for name in datasets:
        ys = np.asarray(ys_by_set[name], dtype=float)
        parts.append(pd.DataFrame({"x": xs_by_set[name],
                                   "y": 10.0 ** ys if log10 else ys,
                                   "dataset": name}))
    return pd.concat(parts, ignore_index=True)


same_nodes = {name: nodes for name in datasets}
same_dims = {name: eig_dims for name in datasets}
palette = dict(zip(datasets, colors))

# ---------------------------------------------------------------- styling
sns.set_theme(style="white")
plt.rcParams["font.family"] = ["Open Sans", "DejaVu Sans"]
TICK_COLOR = "#444444"
TITLE_COLOR = "#444444"
GRID_COLOR = "#ebebeb"
TICK_PT = 9.2
TITLE_PT = 10.8
LEGEND_PT = 11.0
PX = 0.72  # points per pixel at 100 dpi

W, H = 1374, 623
fig = plt.figure(figsize=(W / 100, H / 100), dpi=100)
col_left = [59, 401, 743, 1085]
col_width = 259
row_span = [(5, 203), (337, 537)]


def make_axes(col, row):
    top, bottom = row_span[row]
    return fig.add_axes([col_left[col] / W, 1 - bottom / H,
                         col_width / W, (bottom - top) / H])


def finish(ax, xticks, xlabels, yticks, ylabels, xlabel, ylabel, xlim, ylim, grid_x):
    ax.set_xlim(*xlim)
    ax.set_ylim(*ylim)
    ax.set_xticks(xticks)
    ax.set_xticklabels(xlabels)
    ax.set_yticks(yticks)
    ax.set_yticklabels(ylabels)
    ax.xaxis.set_minor_locator(FixedLocator(grid_x))
    ax.yaxis.set_minor_locator(NullLocator())
    ax.grid(False)
    ax.grid(True, which="minor", axis="x", color=GRID_COLOR, lw=1.0)
    ax.grid(True, which="major", axis="y", color=GRID_COLOR, lw=1.0)
    ax.set_axisbelow(True)
    ax.tick_params(which="both", length=0, labelsize=TICK_PT, labelcolor=TICK_COLOR)
    ax.tick_params(axis="x", pad=3)
    ax.tick_params(axis="y", pad=2)
    for s in ax.spines.values():
        s.set_visible(False)
    ax.set_xlabel("")
    ax.set_ylabel("")
    ax.annotate(xlabel, xy=(0.5, 0), xycoords="axes fraction",
                xytext=(0, -47 * PX), textcoords="offset points",
                ha="center", va="center", fontsize=TITLE_PT, color=TITLE_COLOR)
    ax.annotate(ylabel, xy=(0, 0.5), xycoords="axes fraction",
                xytext=(-43 * PX, 0), textcoords="offset points", rotation=90,
                ha="center", va="center", fontsize=TITLE_PT, color=TITLE_COLOR)


def draw_lines(ax, frame):
    sns.lineplot(data=frame, x="x", y="y", hue="dataset", hue_order=datasets,
                 palette=palette, estimator=None, sort=False, lw=1.6,
                 legend=False, ax=ax)


# Betweenness centrality
ax = make_axes(0, 0)
draw_lines(ax, long_frame(same_nodes, betweenness_log10, log10=True))
ax.set_yscale("log")
finish(ax, [1, 35, 70], ["1", "35", "70"], [1e-4, 1e-2], ["100µ", "0.01"],
       "Node", "Log Betweenness Centrality", (1, 70), (10 ** -4.233, 10 ** -0.928), [35])

# Clustering coefficient
ax = make_axes(1, 0)
draw_lines(ax, long_frame(same_nodes, clustering))
ax.set_yscale("log")
finish(ax, [1, 35, 70], ["1", "35", "70"], [0.6, 0.8], ["0.6", "0.8"],
       "Node", "Log Clustering Coefficient", (1, 70), (0.447, 1.0), [35])

# Degree
ax = make_axes(2, 0)
draw_lines(ax, long_frame(same_nodes, degree))
ax.set_yscale("log")
finish(ax, [1, 35, 70], ["1", "35", "70"], [50], ["50"],
       "Node", "Degree", (1, 70), (11.0, 71.3), [35])

# Edge weights
ax = make_axes(3, 0)
draw_lines(ax, long_frame(edge_positions, edge_weights_log10, log10=True))
ax.set_yscale("log")
finish(ax, [1, 1090, 2180], ["1", "1090", "2180"], [1e-3, 1, 1e3], ["0.001", "1", "1000"],
       "Edge", "Log Edge Weight", (1, 2180), (10 ** -3.5, 10 ** 5.09), [1090])

# Eigenvalues
ax = make_axes(0, 1)
draw_lines(ax, long_frame(same_dims, eigenvalues))
finish(ax, [1, 35, 70], ["1", "35", "70"], [0, 0.5, 1], ["0", "0.5", "1"],
       "Dimension", "Eigenvalue", (1, 70), (-0.083, 1.424), [35])

# Locality statistic
ax = make_axes(1, 1)
draw_lines(ax, long_frame(same_nodes, locality_log10, log10=True))
ax.set_yscale("log")
finish(ax, [1, 35, 70], ["1", "35", "70"], [1e5, 1e6], ["100k", "1M"],
       "Node", "Log Locality Statistic-1", (1, 70), (10 ** 4.26, 10 ** 6.71), [35])

# Non-zero counts per subject
ax = make_axes(2, 1)
nnz_frame = pd.concat([pd.DataFrame({"dataset": name, "nnz": non_zeros[name]})
                       for name in datasets], ignore_index=True)
sns.stripplot(data=nnz_frame, x="dataset", y="nnz", hue="dataset", order=datasets,
              hue_order=datasets, palette=palette, jitter=0.16, size=4.6,
              linewidth=0, alpha=0.92, legend=False, ax=ax)
finish(ax, [], [], [0, 1000], ["0", "1000"],
       "Dataset", "Number of Non-zeros", (-0.82, 9.8), (-5, 1490), [4.26])

# Legend
handles = [Line2D([], [], ls="", marker="o", markersize=3.8, color=c,
                  markeredgewidth=0) for c in colors]
labels = [f"{name} ({n})" for name, n in zip(datasets, subjects)]
fig.legend(handles, labels, loc="upper left",
           bbox_to_anchor=(1088.5 / W, 1 - 416.5 / H), frameon=False,
           fontsize=LEGEND_PT, labelcolor=TITLE_COLOR, borderpad=0, borderaxespad=0,
           handlelength=0.75, handletextpad=1.0, labelspacing=0.39)
fig.text(1215 / W, 1 - 292 / H, "Dataset (Number of Subjects)", ha="center",
         va="center", fontsize=LEGEND_PT, color=TITLE_COLOR)

fig.savefig("out.png", dpi=100, facecolor="white")
